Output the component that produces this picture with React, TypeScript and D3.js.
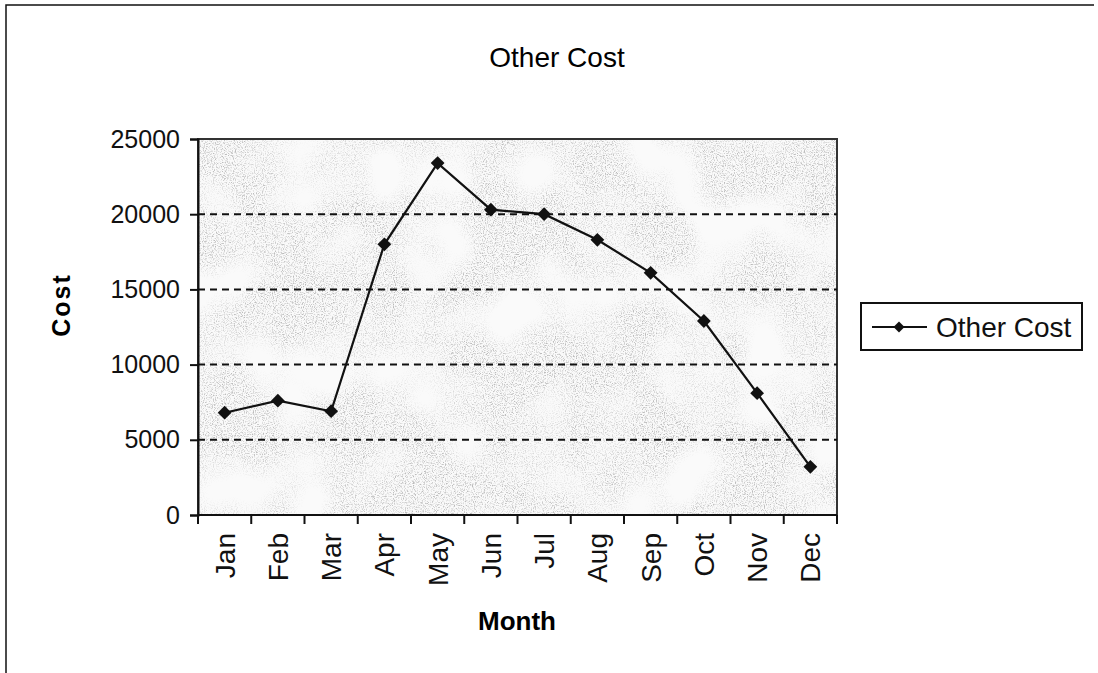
import { useEffect, useRef } from 'react';
import * as d3 from 'd3';

const months = ['Jan', 'Feb', 'Mar', 'Apr', 'May', 'Jun', 'Jul', 'Aug', 'Sep', 'Oct', 'Nov', 'Dec'];
const otherCost = [6800, 7600, 6900, 18000, 23400, 20300, 20000, 18300, 16100, 12900, 8100, 3200];
const yTicks = [0, 5000, 10000, 15000, 20000, 25000];

const W = 1098;
const H = 673;

export default function App() {
  const svgRef = useRef<SVGSVGElement>(null);

  useEffect(() => {
    if (!svgRef.current) return;
    document.body.style.margin = '0';

    const svg = d3.select(svgRef.current);
    svg.selectAll('*').remove();

    const font = 'Liberation Sans, Arial, sans-serif';
    const plot = { left: 198, right: 837, top: 139, bottom: 515 };

    const x = d3.scaleBand().domain(months).range([plot.left, plot.right]);
    const y = d3.scaleLinear().domain([0, 25000]).range([plot.bottom, plot.top]);

    // speckled scan background
    const defs = svg.append('defs');
    const f = defs.append('filter').attr('id', 'speckle').attr('x', 0).attr('y', 0).attr('width', 1).attr('height', 1);
    f.append('feTurbulence').attr('type', 'fractalNoise').attr('baseFrequency', 0.9).attr('numOctaves', 2).attr('seed', 4).attr('result', 'fine');
    f.append('feTurbulence').attr('type', 'fractalNoise').attr('baseFrequency', 0.015).attr('numOctaves', 2).attr('seed', 7).attr('result', 'coarse');
    f.append('feColorMatrix').attr('in', 'fine').attr('type', 'matrix')
      .attr('values', '0 0 0 0 0.5  0 0 0 0 0.5  0 0 0 0 0.5  0 0 0 3.2 -1.5').attr('result', 'dots');
    f.append('feColorMatrix').attr('in', 'coarse').attr('type', 'matrix')
      .attr('values', '0 0 0 0 0  0 0 0 0 0  0 0 0 0 0  0 0 0 3.5 -1.1').attr('result', 'mask');
    f.append('feComposite').attr('in', 'dots').attr('in2', 'mask').attr('operator', 'in');

    // outer frame
    svg.append('path')
      .attr('d', `M6,${H} V5 H1094`)
      .attr('fill', 'none')
      .attr('stroke', '#111')
      .attr('stroke-width', 1.5);

    // title
    svg.append('text')
      .attr('x', 557).attr('y', 67)
      .attr('text-anchor', 'middle')
      .attr('font-family', font).attr('font-size', 28)
      .text('Other Cost');

    // plot area
    svg.append('rect')
      .attr('x', plot.left).attr('y', plot.top)
      .attr('width', plot.right - plot.left).attr('height', plot.bottom - plot.top)
      .attr('fill', '#fafafa');
    svg.append('rect')
      .attr('x', plot.left).attr('y', plot.top)
      .attr('width', plot.right - plot.left).attr('height', plot.bottom - plot.top)
      .attr('fill', '#fff')
      .attr('filter', 'url(#speckle)');
    svg.append('rect')
      .attr('x', plot.left).attr('y', plot.top)
      .attr('width', plot.right - plot.left).attr('height', plot.bottom - plot.top)
      .attr('fill', 'none').attr('stroke', '#333').attr('stroke-width', 2);

    // gridlines
    svg.append('g')
      .selectAll('line')
      .data(yTicks.filter(t => t > 0 && t < 25000))
      .enter().append('line')
      .attr('x1', plot.left).attr('x2', plot.right)
      .attr('y1', d => y(d)).attr('y2', d => y(d))
      .attr('stroke', '#111').attr('stroke-width', 2)
      .attr('stroke-dasharray', '7,5');

    // y axis
    const yAxis = svg.append('g')
      .attr('transform', `translate(${plot.left},0)`)
      .call(d3.axisLeft(y).tickValues(yTicks).tickSize(8).tickPadding(10).tickFormat(d3.format('d')));
    yAxis.select('.domain').attr('stroke', '#111').attr('stroke-width', 2);
    yAxis.selectAll('.tick line').attr('stroke', '#111').attr('stroke-width', 2);
    yAxis.selectAll('text').attr('font-family', font).attr('font-size', 25).attr('fill', '#111');

    // x axis (ticks at category boundaries)
    const xAxis = svg.append('g').attr('transform', `translate(0,${plot.bottom})`);
    xAxis.append('line')
      .attr('x1', plot.left).attr('x2', plot.right)
      .attr('stroke', '#111').attr('stroke-width', 2);
    const bounds = months.map(m => x(m) as number).concat([plot.right]);
    xAxis.selectAll('.xtick').data(bounds).enter().append('line')
      .attr('x1', d => d).attr('x2', d => d)
      .attr('y1', 0).attr('y2', 9)
      .attr('stroke', '#111').attr('stroke-width', 2);
    xAxis.selectAll('.xlabel').data(months).enter().append('text')
      .attr('transform', d => `translate(${(x(d) as number) + x.bandwidth() / 2 + 10},${18}) rotate(-90)`)
      .attr('text-anchor', 'end')
      .attr('font-family', font).attr('font-size', 28).attr('fill', '#111')
      .text(d => d);

    // axis titles
    svg.append('text')
      .attr('transform', `translate(70,305) rotate(-90)`)
      .attr('text-anchor', 'middle')
      .attr('font-family', font).attr('font-size', 25).attr('font-weight', 'bold')
      .attr('letter-spacing', 2)
      .text('Cost');
    svg.append('text')
      .attr('x', 517).attr('y', 630)
      .attr('text-anchor', 'middle')
      .attr('font-family', font).attr('font-size', 26).attr('font-weight', 'bold')
      .text('Month');

    // series
    const pts = months.map((m, i) => [(x(m) as number) + x.bandwidth() / 2, y(otherCost[i])] as [number, number]);
    svg.append('path')
      .attr('d', d3.line()(pts))
      .attr('fill', 'none').attr('stroke', '#111').attr('stroke-width', 2.2);
    const diamond = d3.symbol().type(d3.symbolSquare).size(95);
    svg.append('g').selectAll('path').data(pts).enter().append('path')
      .attr('transform', d => `translate(${d[0]},${d[1]}) rotate(45)`)
      .attr('d', diamond()).attr('fill', '#111');

    // legend
    const lg = svg.append('g').attr('transform', 'translate(861,303)');
    lg.append('rect').attr('width', 221).attr('height', 47)
      .attr('fill', '#fff').attr('stroke', '#111').attr('stroke-width', 2);
    lg.append('line').attr('x1', 11).attr('x2', 66).attr('y1', 24).attr('y2', 24)
      .attr('stroke', '#111').attr('stroke-width', 2);
    lg.append('path').attr('transform', 'translate(38,24) rotate(45)')
      .attr('d', d3.symbol().type(d3.symbolSquare).size(60)()).attr('fill', '#111');
    lg.append('text').attr('x', 75).attr('y', 34)
      .attr('font-family', font).attr('font-size', 28).attr('fill', '#111')
      .text('Other Cost');
  }, []);

  return <svg ref={svgRef} width={W} height={H} style={{ display: 'block', background: '#fff' }} />;
}
